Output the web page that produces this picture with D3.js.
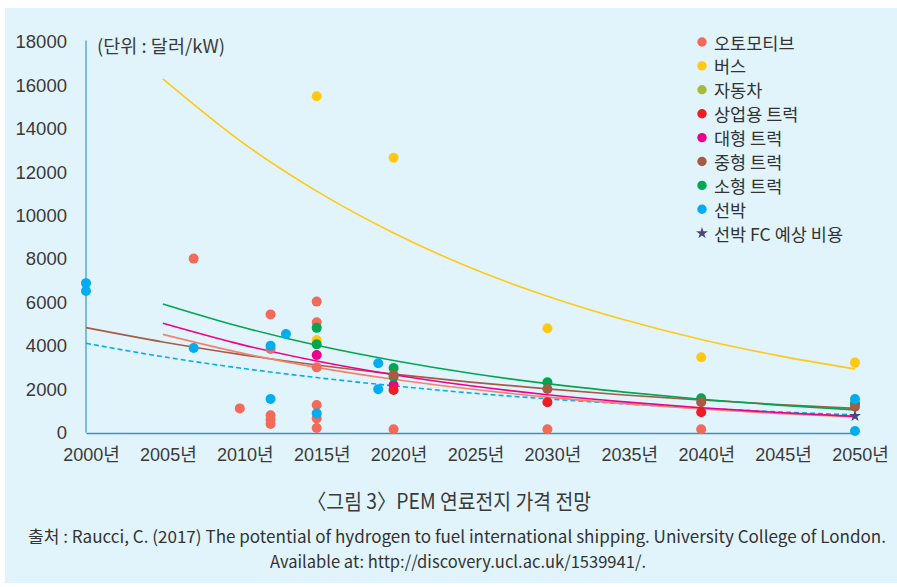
<!DOCTYPE html>
<html>
<head>
<meta charset="utf-8">
<script src="https://cdn.jsdelivr.net/npm/d3@7"></script>
<style>
  html, body { margin: 0; padding: 0; background: #fff; }
  svg { display: block; }
</style>
</head>
<body>
<div id="chart"></div>
<script>
// ---------------------------------------------------------------------------
// DATA
// ---------------------------------------------------------------------------
const xTicks = [2000, 2005, 2010, 2015, 2020, 2025, 2030, 2035, 2040, 2045, 2050];
const yTicks = [0, 2000, 4000, 6000, 8000, 10000, 12000, 14000, 16000, 18000];

const seriesNames = ['오토모티브', '버스', '자동차', '상업용 트럭', '대형 트럭', '중형 트럭', '소형 트럭', '선박'];
const starName = '선박 FC 예상 비용';

// [year, $/kW]
const automotive = [[2007, 8020], [2010, 1120], [2012, 5450], [2012, 3860], [2012, 800], [2012, 600], [2012, 400],
  [2015, 6040], [2015, 5090], [2015, 3010], [2015, 1280], [2015, 660], [2015, 220],
  [2020, 155], [2030, 156], [2040, 156]];
const bus = [[2015, 15500], [2015, 4270], [2020, 12670], [2030, 4810], [2040, 3475], [2050, 3230]];
const car = [];
const commercialTruck = [[2020, 1970], [2030, 1400], [2040, 940]];
const largeTruck = [[2015, 3580], [2020, 2200]];
const mediumTruck = [[2020, 2660], [2030, 2010], [2040, 1400], [2050, 1200]];
const smallTruck = [[2015, 4830], [2015, 4070], [2020, 2980], [2020, 2580], [2030, 2320], [2040, 1590], [2050, 1350]];
const ship = [[2000, 6890], [2000, 6530], [2007, 3900], [2012, 4010], [2012, 1550], [2013, 4550], [2015, 890],
  [2019, 3200], [2019, 2000], [2050, 1550], [2050, 80]];
const shipFcForecast = [[2050, 770]];

// trend lines, values at each 5-year mark (null = not drawn)
const trendYears = [2000, 2005, 2010, 2015, 2020, 2025, 2030, 2035, 2040, 2045, 2050];
const busTrend = [null, 16300, 13460, 11130, 9200, 7600, 6290, 5200, 4290, 3550, 2940];
const smallTruckTrend = [null, 5930, 4890, 4030, 3330, 2740, 2260, 1870, 1540, 1270, 1050];
const largeTruckTrend = [null, 5040, 4080, 3300, 2670, 2160, 1750, 1420, 1150, 930, 750];
const automotiveTrend = [null, 4530, 3690, 3010, 2460, 2010, 1640, 1340, 1090, 890, 730];
const mediumTruckTrend = [4840, 4180, 3610, 3120, 2700, 2330, 2020, 1740, 1510, 1300, 1120];
const shipTrend = [4120, 3500, 2980, 2540, 2160, 1830, 1560, 1330, 1130, 960, 820];

// ---------------------------------------------------------------------------
const colors = {
  automotive: '#f26a5a',
  bus: '#ffc913',
  car: '#a8ba3c',
  commercial: '#ee1c25',
  large: '#ec008c',
  medium: '#a65b42',
  small: '#00a650',
  ship: '#00aeef',
  star: '#4b4579',
  autoTrend: '#f3826f'
};

const width = 897, height = 587;
const svg = d3.select('#chart').append('svg')
  .attr('width', width)
  .attr('height', height);

svg.append('rect')
  .attr('x', 5).attr('y', 8)
  .attr('width', width - 5).attr('height', 575)
  .attr('fill', '#e2f4fb');

const x = d3.scaleLinear().domain([2000, 2050]).range([86, 855]);
const y = d3.scaleLinear().domain([0, 18000]).range([432.7, 42]);

const numFont = "'Liberation Sans', 'Noto Sans CJK KR', sans-serif";
const krFont = "'Noto Sans CJK KR', sans-serif";

// Y AXIS
svg.append('g')
  .attr('transform', 'translate(86,0)')
  .call(d3.axisLeft(y).tickValues(yTicks).tickSize(0).tickPadding(19).tickFormat(d3.format('d')))
  .call(g => g.select('.domain').attr('stroke', '#74bfdc').attr('stroke-width', 2).attr('d', 'M0,40.5V432.7'))
  .selectAll('text')
  .attr('fill', '#3a3a3a')
  .attr('font-size', 18.5);

// X AXIS
svg.append('g')
  .attr('transform', 'translate(0,433)')
  .call(d3.axisBottom(x).tickValues(xTicks).tickSize(0).tickFormat(d => d + '년'))
  .call(g => g.select('.domain').attr('stroke', '#3f8fbf').attr('stroke-width', 1.5))
  .selectAll('text')
  .attr('y', 22).attr('dy', '0.35em').attr('dx', 5)
  .attr('fill', '#3a3a3a')
  .attr('font-size', 18);

svg.selectAll('g').attr('font-family', null);
svg.selectAll('.tick text').style('font-family', numFont);

// unit label
svg.append('text')
  .attr('x', 97).attr('y', 45)
  .attr('dominant-baseline', 'central')
  .attr('font-size', 18.5)
  .attr('font-family', krFont)
  .attr('fill', '#3a3a3a')
  .attr('textLength', 128)
  .attr('lengthAdjust', 'spacingAndGlyphs')
  .text('(단위 : 달러/kW)');

// TREND LINES
const line = d3.line()
  .defined(d => d[1] != null)
  .x(d => x(d[0]))
  .y(d => y(d[1]))
  .curve(d3.curveMonotoneX);

const trends = [
  { values: shipTrend, color: colors.ship, dash: '5,3' },
  { values: mediumTruckTrend, color: colors.medium },
  { values: automotiveTrend, color: colors.autoTrend },
  { values: largeTruckTrend, color: colors.large },
  { values: smallTruckTrend, color: colors.small },
  { values: busTrend, color: colors.bus }
];

svg.append('g').selectAll('path')
  .data(trends)
  .join('path')
  .attr('fill', 'none')
  .attr('stroke', d => d.color)
  .attr('stroke-width', 1.6)
  .attr('stroke-dasharray', d => d.dash || null)
  .attr('d', d => line(trendYears.map((yr, i) => [yr, d.values[i]])));

// POINTS (drawing order follows overlaps in the picture)
const pointLayers = [
  { data: automotive, color: colors.automotive },
  { data: bus, color: colors.bus },
  { data: car, color: colors.car },
  { data: largeTruck, color: colors.large },
  { data: commercialTruck, color: colors.commercial },
  { data: smallTruck, color: colors.small },
  { data: mediumTruck, color: colors.medium },
  { data: ship, color: colors.ship }
];

pointLayers.forEach(layer => {
  svg.append('g').selectAll('circle')
    .data(layer.data)
    .join('circle')
    .attr('cx', d => x(d[0]))
    .attr('cy', d => y(d[1]))
    .attr('r', 5)
    .attr('fill', layer.color);
});

const star = d3.symbol(d3.symbolStar, 44);
svg.append('g').selectAll('path')
  .data(shipFcForecast)
  .join('path')
  .attr('transform', d => `translate(${x(d[0])},${y(d[1])})`)
  .attr('d', star)
  .attr('fill', colors.star);

// LEGEND
const legendColors = [colors.automotive, colors.bus, colors.car, colors.commercial,
  colors.large, colors.medium, colors.small, colors.ship];
const legend = svg.append('g').attr('transform', 'translate(702,42)');
const rowH = 23.9;

legend.selectAll('circle')
  .data(seriesNames)
  .join('circle')
  .attr('cx', 0)
  .attr('cy', (d, i) => i * rowH)
  .attr('r', 4.7)
  .attr('fill', (d, i) => legendColors[i]);

legend.append('path')
  .attr('transform', `translate(0,${seriesNames.length * rowH})`)
  .attr('d', star)
  .attr('fill', colors.star);

legend.selectAll('text')
  .data(seriesNames.concat([starName]))
  .join('text')
  .attr('x', 12)
  .attr('y', (d, i) => i * rowH)
  .attr('dominant-baseline', 'central')
  .attr('font-size', 17.5)
  .attr('font-family', krFont)
  .attr('fill', '#333')
  .text(d => d);

// CAPTION
svg.append('text')
  .attr('x', 307).attr('y', 500)
  .attr('dominant-baseline', 'central')
  .attr('font-size', 21)
  .attr('font-family', krFont)
  .attr('fill', '#3a3a3a')
  .attr('textLength', 284)
  .attr('lengthAdjust', 'spacingAndGlyphs')
  .text('〈그림 3〉PEM 연료전지 가격 전망');

svg.append('text')
  .attr('x', 28).attr('y', 535)
  .attr('dominant-baseline', 'central')
  .attr('font-size', 17)
  .attr('font-family', krFont)
  .attr('fill', '#333')
  .attr('textLength', 858)
  .attr('lengthAdjust', 'spacingAndGlyphs')
  .text('출처 : Raucci, C. (2017) The potential of hydrogen to fuel international shipping. University College of London.');

svg.append('text')
  .attr('x', 270).attr('y', 560)
  .attr('dominant-baseline', 'central')
  .attr('font-size', 17)
  .attr('font-family', krFont)
  .attr('fill', '#333')
  .attr('textLength', 376)
  .attr('lengthAdjust', 'spacingAndGlyphs')
  .text('Available at: http://discovery.ucl.ac.uk/1539941/.');
</script>
</body>
</html>
